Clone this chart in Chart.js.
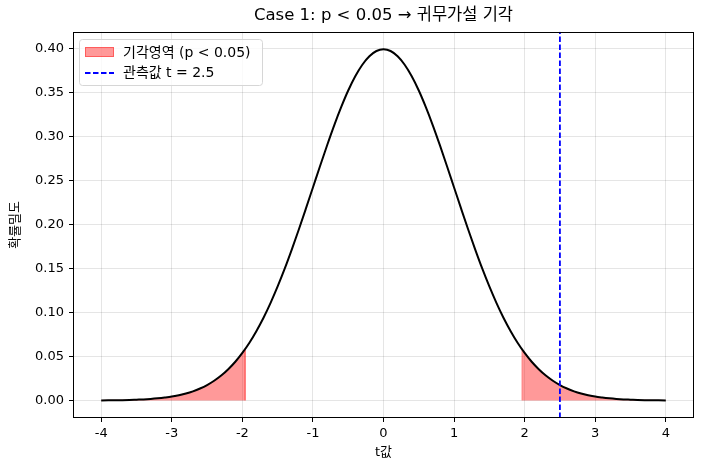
<!DOCTYPE html>
<html><head><meta charset="utf-8">
<script src="https://cdn.jsdelivr.net/npm/chart.js@4/dist/chart.umd.min.js"></script>
<style>html,body{margin:0;padding:0;background:#fff}#wrap{width:702px;height:470px}</style>
</head><body><div id="wrap"><canvas id="c" width="702" height="470"></canvas></div>
<script>
const FONT = '"DejaVu Sans", "Noto Sans CJK KR", sans-serif';
const titleText = 'Case 1: p < 0.05 → 귀무가설 기각';
const xLabel = 't값';
const yLabel = '확률밀도';
const legendLabels = ['기각영역 (p < 0.05)', '관측값 t = 2.5'];
const xTicks = [-4, -3, -2, -1, 0, 1, 2, 3, 4];
const yTicks = [0.00, 0.05, 0.10, 0.15, 0.20, 0.25, 0.30, 0.35, 0.40];
const tValues = [-4.0,-3.9,-3.8,-3.7,-3.6,-3.5,-3.4,-3.3,-3.2,-3.1,-3.0,-2.9,-2.8,-2.7,-2.6,-2.5,-2.4,-2.3,-2.2,-2.1,-2.0,-1.9,-1.8,-1.7,-1.6,-1.5,-1.4,-1.3,-1.2,-1.1,-1.0,-0.9,-0.8,-0.7,-0.6,-0.5,-0.4,-0.3,-0.2,-0.1,0.0,0.1,0.2,0.3,0.4,0.5,0.6,0.7,0.8,0.9,1.0,1.1,1.2,1.3,1.4,1.5,1.6,1.7,1.8,1.9,2.0,2.1,2.2,2.3,2.4,2.5,2.6,2.7,2.8,2.9,3.0,3.1,3.2,3.3,3.4,3.5,3.6,3.7,3.8,3.9,4.0];
const density = [0.0001,0.0002,0.0003,0.0004,0.0006,0.0009,0.0012,0.0017,0.0024,0.0033,0.0044,0.0060,0.0079,0.0104,0.0136,0.0175,0.0224,0.0283,0.0355,0.0440,0.0540,0.0656,0.0790,0.0940,0.1109,0.1295,0.1497,0.1714,0.1942,0.2179,0.2420,0.2661,0.2897,0.3123,0.3332,0.3521,0.3683,0.3814,0.3910,0.3970,0.3989,0.3970,0.3910,0.3814,0.3683,0.3521,0.3332,0.3123,0.2897,0.2661,0.2420,0.2179,0.1942,0.1714,0.1497,0.1295,0.1109,0.0940,0.0790,0.0656,0.0540,0.0440,0.0355,0.0283,0.0224,0.0175,0.0136,0.0104,0.0079,0.0060,0.0044,0.0033,0.0024,0.0017,0.0012,0.0009,0.0006,0.0004,0.0003,0.0002,0.0001];
const criticalT = 1.96;
const criticalDensity = 0.0584;
const observedT = 2.5;

const curve = tValues.map((t, i) => ({x: t, y: density[i]}));
const leftTail = curve.filter(p => p.x <= -criticalT).concat([{x: -criticalT, y: criticalDensity}, {x: -criticalT, y: 0}]);
const rightTail = [{x: criticalT, y: 0}, {x: criticalT, y: criticalDensity}].concat(curve.filter(p => p.x >= criticalT));

const yMin = -0.0199, yMax = 0.4188;

const framePlugin = {
  id: 'frame',
  afterDraw(chart) {
    const ctx = chart.ctx, a = chart.chartArea;
    ctx.save();
    ctx.strokeStyle = '#000'; ctx.lineWidth = 1;
    ctx.strokeRect(Math.round(a.left) + 0.5, Math.round(a.top) + 0.5, Math.round(a.right - a.left) - 1, Math.round(a.bottom - a.top) - 1);
    // legend
    const lx = 79, ly = 39, lw = 183, lh = 46;
    ctx.fillStyle = 'rgba(255,255,255,0.8)';
    ctx.strokeStyle = '#d6d6d6';
    ctx.beginPath();
    if (ctx.roundRect) ctx.roundRect(lx + 0.5, ly + 0.5, lw, lh, 3); else ctx.rect(lx + 0.5, ly + 0.5, lw, lh);
    ctx.fill(); ctx.stroke();
    ctx.fillStyle = 'rgba(255,0,0,0.4)';
    ctx.fillRect(85, 47, 29, 10);
    ctx.strokeStyle = 'rgba(255,0,0,0.4)';
    ctx.strokeRect(85.5, 47.5, 28, 9);
    ctx.strokeStyle = '#0000ff'; ctx.lineWidth = 1.8; ctx.setLineDash([5.5, 2.5]);
    ctx.beginPath(); ctx.moveTo(85, 73); ctx.lineTo(114, 73); ctx.stroke();
    ctx.setLineDash([]);
    ctx.fillStyle = '#000'; ctx.font = '14px ' + FONT; ctx.textBaseline = 'middle'; ctx.textAlign = 'left';
    ctx.fillText(legendLabels[0], 123, 53);
    ctx.fillText(legendLabels[1], 123, 73);
    // axis labels
    ctx.font = '13px ' + FONT; ctx.textAlign = 'center';
    ctx.fillText(xLabel, (a.left + a.right) / 2, 453);
    ctx.save();
    ctx.translate(16, (a.top + a.bottom) / 2);
    ctx.rotate(-Math.PI / 2);
    ctx.fillText(yLabel, 0, 0);
    ctx.restore();
    ctx.restore();
  }
};

new Chart(document.getElementById('c'), {
  type: 'scatter',
  data: {
    datasets: [
      {label: 'right', data: rightTail, showLine: true, pointRadius: 0, borderColor: 'rgba(255,0,0,0.3)', borderWidth: 1, backgroundColor: 'rgba(255,0,0,0.4)', fill: 'origin', tension: 0, order: 3},
      {label: 'left', data: leftTail, showLine: true, pointRadius: 0, borderColor: 'rgba(255,0,0,0.3)', borderWidth: 1, backgroundColor: 'rgba(255,0,0,0.4)', fill: 'origin', tension: 0, order: 3},
      {label: 'pdf', data: curve, showLine: true, pointRadius: 0, borderColor: '#000', borderWidth: 2, fill: false, cubicInterpolationMode: 'monotone', order: 2},
      {label: 'obs', data: [{x: observedT, y: yMin}, {x: observedT, y: yMax}], showLine: true, pointRadius: 0, borderColor: '#0000ff', borderWidth: 1.8, borderDash: [5.5, 2.5], fill: false, order: 1}
    ]
  },
  options: {
    responsive: false, animation: false,
    layout: {padding: {left: 0, right: 8, top: 0, bottom: 0}},
    plugins: {
      legend: {display: false}, tooltip: {enabled: false},
      title: {display: true, text: titleText, fullSize: false, color: '#000', font: {family: FONT, size: 16.5, weight: 'normal'}, padding: {top: 6, bottom: 6}}
    },
    scales: {
      x: {type: 'linear', min: -4.4, max: 4.4,
        afterBuildTicks: s => { s.ticks = xTicks.map(v => ({value: v})); },
        ticks: {color: '#000', font: {family: FONT, size: 13}, padding: 4, callback: v => String(v), maxRotation: 0},
        grid: {color: 'rgba(0,0,0,0.1)', tickColor: '#000', tickLength: 4, drawTicks: true},
        border: {display: false},
        afterFit: s => { s.height = 52; }
      },
      y: {type: 'linear', min: yMin, max: yMax,
        afterBuildTicks: s => { s.ticks = yTicks.map(v => ({value: v})); },
        ticks: {color: '#000', font: {family: FONT, size: 13}, padding: 5, callback: v => v.toFixed(2)},
        grid: {color: 'rgba(0,0,0,0.1)', tickColor: '#000', tickLength: 4, drawTicks: true},
        border: {display: false},
        afterFit: s => { s.width = 73; }
      }
    }
  },
  plugins: [framePlugin]
});
</script></body></html>
